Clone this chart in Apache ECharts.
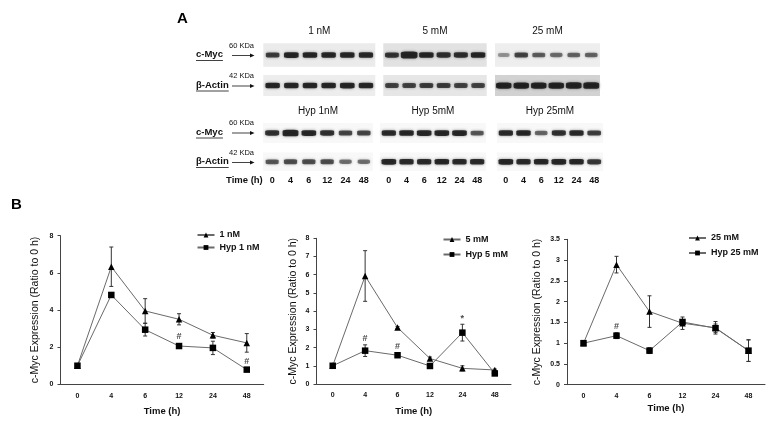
<!DOCTYPE html>
<html>
<head>
<meta charset="utf-8">
<script src="https://cdn.jsdelivr.net/npm/echarts@6/dist/echarts.min.js"></script>
<style>
html, body { margin: 0; padding: 0; background: #fff; }
#chart { width: 774px; height: 422px; }
</style>
</head>
<body>
<div id="chart"></div>
<script>
const FONT = 'Liberation Sans'

// time points (h)
const times = ['0', '4', '6', '12', '24', '48']

// panel B: c-Myc expression, ratio to 0 h (mean, +/- error)
const nM1 = [1, 6.33, 3.95, 3.5, 2.64, 2.23]
const nM1Err = [0, 1.06, 0.66, 0.3, 0.15, 0.5]
const hyp1 = [1, 4.81, 2.94, 2.06, 1.96, 0.79]
const hyp1Err = [0, 0.1, 0.34, 0.1, 0.36, 0.08]

const mM5 = [1, 5.93, 3.1, 1.4, 0.86, 0.77]
const mM5Err = [0, 1.39, 0.05, 0.08, 0.14, 0.05]
const hyp5 = [1, 1.83, 1.58, 0.99, 2.82, 0.58]
const hyp5Err = [0, 0.32, 0.08, 0.05, 0.46, 0.1]

const mM25 = [1, 2.89, 1.76, 1.48, 1.37, 0.82]
const mM25Err = [0, 0.2, 0.38, 0.15, 0.15, 0.26]
const hyp25 = [1, 1.18, 0.82, 1.51, 1.36, 0.82]
const hyp25Err = [0, 0.07, 0.07, 0.06, 0.1, 0.26]

// significance marks: [time index, height, sign]
const sig1 = [[3, 2.55, '#'], [5, 1.22, '#']]
const sig5 = [[1, 2.5, '#'], [2, 2.05, '#'], [4, 3.6, '*']]
const sig25 = [[1, 1.4, '#']]

// panel A: band signal per lane
const myc1 = [0.65, 0.9, 0.85, 0.85, 0.85, 0.8]
const act1 = [0.85, 0.85, 0.85, 0.85, 0.9, 0.85]
const myc5 = [0.7, 1.4, 0.85, 0.75, 0.75, 0.85]
const act5 = [0.6, 0.6, 0.65, 0.65, 0.6, 0.6]
const myc25 = [0.12, 0.6, 0.45, 0.35, 0.4, 0.4]
const act25 = [1.1, 1.1, 1.1, 1.1, 1.15, 1.2]
const hypMyc1 = [0.75, 1.2, 0.9, 0.75, 0.6, 0.6]
const hypAct1 = [0.5, 0.55, 0.55, 0.55, 0.35, 0.35]
const hypMyc5 = [0.8, 0.85, 0.9, 0.9, 0.9, 0.5]
const hypAct5 = [0.9, 0.8, 0.8, 0.85, 0.8, 0.8]
const hypMyc25 = [0.8, 0.85, 0.4, 0.75, 0.8, 0.65]
const hypAct25 = [0.9, 0.8, 0.85, 0.9, 0.85, 0.7]

const blotHeaders = ['1 nM', '5 mM', '25 mM']
const hypHeaders = ['Hyp 1nM', 'Hyp 5mM', 'Hyp 25mM']

const grid = []
const xAxis = []
const yAxis = []
const series = []
const legend = []
const graphic = []

// ---- panel B line charts ----
const charts = [
  {box: [60.5, 235.7, 203.2, 148.6], max: 8, interval: 2, yGap: 20, xGap: 22,
    lines: [['1 nM', nM1, nM1Err], ['Hyp 1 nM', hyp1, hyp1Err]], sig: sig1, leg: [191.5, 225.5, 3.5]},
  {box: [316.5, 238.3, 194.5, 145.7], max: 8, interval: 1, yGap: 18, xGap: 22,
    lines: [['5 mM', mM5, mM5Err], ['Hyp 5 mM', hyp5, hyp5Err]], sig: sig5, leg: [437.5, 230, 6]},
  {box: [567, 239.3, 198, 145.4], max: 3.5, interval: 0.5, yGap: 24, xGap: 19,
    lines: [['25 mM', mM25, mM25Err], ['Hyp 25 mM', hyp25, hyp25Err]], sig: sig25, leg: [683, 228.5, 6]},
]

function renderErr(params, api) {
  const x = api.value(0), m = api.value(1), e = api.value(2)
  if (!e) return
  const hi = api.coord([x, m + e])
  const lo = api.coord([x, m - e])
  const st = {stroke: '#333', lineWidth: 1}
  return {
    type: 'group',
    children: [
      {type: 'line', shape: {x1: hi[0], y1: hi[1], x2: lo[0], y2: lo[1]}, style: st},
      {type: 'line', shape: {x1: hi[0] - 2, y1: hi[1], x2: hi[0] + 2, y2: hi[1]}, style: st},
      {type: 'line', shape: {x1: lo[0] - 2, y1: lo[1], x2: lo[0] + 2, y2: lo[1]}, style: st},
    ],
  }
}

const tick = {fontFamily: FONT, fontSize: 7, fontWeight: 'bold', color: '#111'}

charts.forEach((c, i) => {
  grid.push({left: c.box[0], top: c.box[1], width: c.box[2], height: c.box[3]})
  xAxis.push({
    gridIndex: i,
    type: 'category',
    data: times,
    name: 'Time (h)',
    nameLocation: 'middle',
    nameGap: c.xGap,
    nameTextStyle: {fontFamily: FONT, fontSize: 9.5, fontWeight: 'bold', color: '#111'},
    axisLine: {lineStyle: {color: '#444', width: 1}},
    axisTick: {length: 3, lineStyle: {color: '#444'}},
    axisLabel: Object.assign({margin: 8}, tick),
  })
  yAxis.push({
    gridIndex: i,
    type: 'value',
    min: 0,
    max: c.max,
    interval: c.interval,
    name: 'c-Myc Expression (Ratio to 0 h)',
    nameLocation: 'middle',
    nameGap: c.yGap,
    nameTextStyle: {fontFamily: FONT, fontSize: 10.5, color: '#111'},
    axisLine: {show: true, lineStyle: {color: '#444', width: 1}},
    axisTick: {show: true, length: 3, lineStyle: {color: '#444'}},
    splitLine: {show: false},
    axisLabel: Object.assign({margin: 7}, tick),
  })
  c.lines.forEach((l, k) => {
    series.push({
      name: l[0],
      type: 'line',
      xAxisIndex: i,
      yAxisIndex: i,
      data: l[1],
      symbol: k === 0 ? 'triangle' : 'rect',
      symbolSize: 6.5,
      showAllSymbol: true,
      itemStyle: {color: '#000'},
      lineStyle: {color: '#6a6a6a', width: 1},
      z: 3,
    })
    series.push({
      type: 'custom',
      xAxisIndex: i,
      yAxisIndex: i,
      renderItem: renderErr,
      encode: {x: 0, y: 1},
      data: l[1].map((v, j) => [j, v, l[2][j]]),
      z: 2,
    })
  })
  series.push({
    type: 'scatter',
    xAxisIndex: i,
    yAxisIndex: i,
    symbolSize: 1,
    itemStyle: {color: 'rgba(0,0,0,0)'},
    data: c.sig,
    label: {
      show: true,
      position: 'inside',
      formatter: (p) => p.data[2],
      fontFamily: FONT,
      fontSize: 9,
      fontWeight: 'bold',
      color: '#111',
    },
  })
  legend.push({
    orient: 'vertical',
    left: c.leg[0],
    top: c.leg[1],
    itemWidth: 17,
    itemHeight: 6,
    itemGap: c.leg[2],
    data: c.lines.map((l) => l[0]),
    textStyle: {fontFamily: FONT, fontSize: 9, fontWeight: 'bold', color: '#111'},
  })
})

// ---- panel A blots ----
const blotRows = [
  {top: 43.3, height: 23.4, data: [myc1, myc5, myc25], bg: ['#ebebeb', '#e2e2e2', '#eeeeee'], head: blotHeaders},
  {top: 75, height: 21, data: [act1, act5, act25], bg: ['#ededed', '#e6e6e6', '#d2d2d2']},
  {top: 123, height: 20, data: [hypMyc1, hypMyc5, hypMyc25], bg: ['#f8f8f8', '#f8f8f8', '#f8f8f8'], head: hypHeaders},
  {top: 152.5, height: 18.5, data: [hypAct1, hypAct5, hypAct25], bg: ['#f8f8f8', '#f8f8f8', '#f8f8f8'], lanes: true},
]
const colsTop = [[263.3, 112], [383.3, 103.4], [495, 105]]
const colsHyp = [[263, 110], [380, 106], [497, 106]]

blotRows.forEach((row, r) => {
  const cols = r < 2 ? colsTop : colsHyp
  cols.forEach((col, g) => {
    const gi = grid.length
    grid.push({
      left: col[0], top: row.top, width: col[1], height: row.height,
      show: true, backgroundColor: row.bg[g], borderWidth: 0,
    })
    xAxis.push({
      gridIndex: gi,
      type: 'category',
      data: times,
      position: row.head ? 'top' : 'bottom',
      name: row.head ? row.head[g] : '',
      nameLocation: 'middle',
      nameGap: 7,
      nameTextStyle: {fontFamily: FONT, fontSize: 10, color: '#111'},
      axisLine: {show: false},
      axisTick: {show: false},
      axisLabel: {show: !!row.lanes, margin: 5, fontFamily: FONT, fontSize: 9, fontWeight: 'bold', color: '#111'},
    })
    yAxis.push({gridIndex: gi, type: 'value', min: 0, max: 1, show: false})
    series.push({
      type: 'scatter',
      xAxisIndex: gi,
      yAxisIndex: gi,
      silent: true,
      symbol: 'roundRect',
      symbolSize: (v) => [11 + 4 * v[2], 3.5 + 2.5 * v[2]],
      data: row.data[g].map((s, j) => [j, 0.5, s]),
      itemStyle: {
        color: (p) => 'rgba(8,8,8,' + Math.min(1, 0.3 + 0.85 * p.data[2]).toFixed(2) + ')',
        shadowBlur: 3,
        shadowColor: 'rgba(0,0,0,0.55)',
      },
    })
  })
})

// row labels to the left of the blots
const ctx = document.createElement('canvas').getContext('2d')
const rowLabels = [['c-Myc', '60 KDa', 55.5], ['β-Actin', '42 KDa', 86], ['c-Myc', '60 KDa', 133], ['β-Actin', '42 KDa', 162.5]]
rowLabels.forEach(([name, kda, y]) => {
  ctx.font = 'bold 9.5px ' + FONT
  const w = ctx.measureText(name).width
  graphic.push(
    {type: 'text', left: 196, top: y - 6, style: {text: name, font: 'bold 9.5px ' + FONT, fill: '#111'}},
    {type: 'line', shape: {x1: 196, y1: y + 5, x2: 196 + w, y2: y + 5}, style: {stroke: '#111', lineWidth: 0.8}},
    {type: 'text', left: 229, top: y - 14, style: {text: kda, font: '7.5px ' + FONT, fill: '#111'}},
    {type: 'line', shape: {x1: 232, y1: y, x2: 251, y2: y}, style: {stroke: '#111', lineWidth: 0.8}},
    {type: 'polygon', shape: {points: [[250, y - 2], [254.5, y], [250, y + 2]]}, style: {fill: '#111'}}
  )
})
graphic.push(
  {type: 'text', left: 226, top: 175, style: {text: 'Time (h)', font: 'bold 9.5px ' + FONT, fill: '#111'}},
  {type: 'text', left: 177, top: 11, style: {text: 'A', font: 'bold 15px ' + FONT, fill: '#000'}},
  {type: 'text', left: 11, top: 197, style: {text: 'B', font: 'bold 15px ' + FONT, fill: '#000'}}
)

const option = {
  animation: false,
  backgroundColor: '#fff',
  grid: grid,
  xAxis: xAxis,
  yAxis: yAxis,
  legend: legend,
  series: series,
  graphic: graphic,
}

var myChart = echarts.init(document.getElementById('chart'))
myChart.setOption(option)
</script>
</body>
</html>
